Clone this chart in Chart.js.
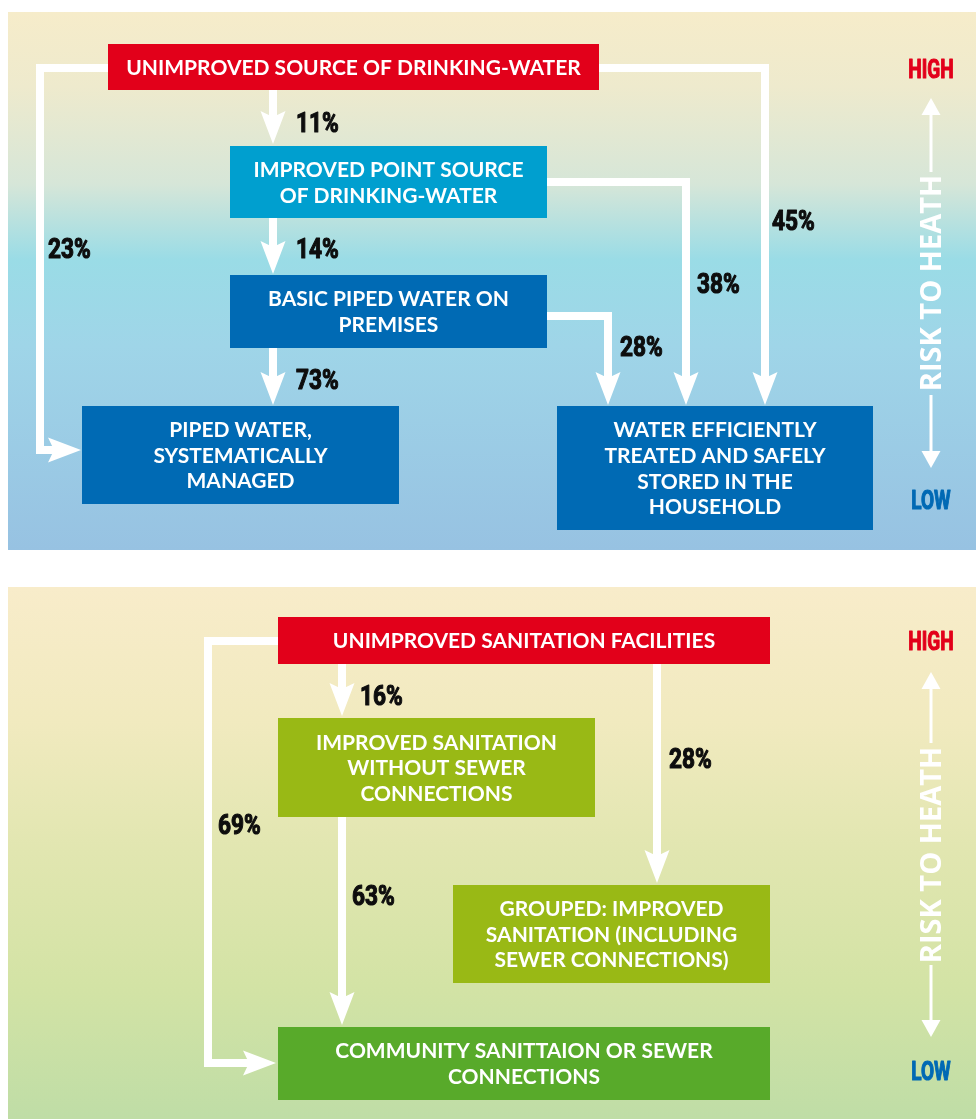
<!DOCTYPE html>
<html>
<head>
<meta charset="utf-8">
<script src="https://cdn.jsdelivr.net/npm/chart.js@4.4.0/dist/chart.umd.min.js"></script>
<style>
  body { margin: 0; background: #fff; width: 976px; height: 1119px; position: relative; overflow: hidden; }
  .panel { position: absolute; left: 8px; }
</style>
</head>
<body>
<div class="panel" style="top:12px;width:968px;height:538px"><canvas id="water" width="968" height="538"></canvas></div>
<div class="panel" style="top:587px;width:968px;height:532px"><canvas id="sanitation" width="968" height="532"></canvas></div>
<script>
// drinking-water ladder
const waterNodes = [
  'UNIMPROVED SOURCE OF DRINKING-WATER',
  'IMPROVED POINT SOURCE\nOF DRINKING-WATER',
  'BASIC PIPED WATER ON\nPREMISES',
  'PIPED WATER,\nSYSTEMATICALLY\nMANAGED',
  'WATER EFFICIENTLY\nTREATED AND SAFELY\nSTORED IN THE\nHOUSEHOLD'
];
const waterFrom = [0, 1, 2, 2, 1, 0, 0];
const waterTo   = [1, 2, 3, 4, 4, 4, 3];
const waterPct  = [11, 14, 73, 28, 38, 45, 23];

// sanitation ladder
const sanNodes = [
  'UNIMPROVED SANITATION FACILITIES',
  'IMPROVED SANITATION\nWITHOUT SEWER\nCONNECTIONS',
  'GROUPED: IMPROVED\nSANITATION (INCLUDING\nSEWER CONNECTIONS)',
  'COMMUNITY SANITTAION OR SEWER\nCONNECTIONS'
];
const sanFrom = [0, 0, 1, 0];
const sanTo   = [1, 2, 3, 3];
const sanPct  = [16, 28, 63, 69];

const riskLabels = ['HIGH', 'RISK TO HEATH', 'LOW'];

// layout in panel units (x 0..968, y 0..height, y downwards)
const waterLayout = {
  height: 538,
  grad: [[0, '#f6ecca'], [0.14, '#eeeacd'], [0.32, '#d6e6d8'], [0.46, '#9adce6'], [0.62, '#9fd5e8'], [1, '#97c2e2']],
  boxes: [[100, 32, 591, 78, '#e2001a'], [222, 134, 539, 206, '#009fcf'], [222, 263, 539, 336, '#006ab4'],
          [74, 394, 391, 492, '#006ab4'], [549, 394, 865, 518, '#006ab4']],
  paths: [
    [[265, 78], [265, 132]],
    [[265, 206], [265, 262]],
    [[265, 336], [265, 393]],
    [[539, 304], [600, 304], [600, 393]],
    [[539, 170], [678, 170], [678, 393]],
    [[591, 56], [757, 56], [757, 393]],
    [[100, 56], [32, 56], [32, 438], [73, 438]]
  ],
  labels: [[288, 113], [288, 239], [288, 370], [612, 337], [689, 274], [764, 211], [40, 239]],
  legend: { x: 923, high: 60, upTop: 86, upBot: 160, mid: 271, dnTop: 383, dnBot: 456, low: 491 }
};

const sanLayout = {
  height: 532,
  grad: [[0, '#f8ecca'], [0.25, '#f1eabf'], [0.5, '#e1e6b0'], [0.75, '#d3e3a5'], [1, '#bfdda6']],
  boxes: [[270, 30, 762, 77, '#e2001a'], [270, 131, 587, 230, '#99b915'], [445, 298, 762, 396, '#99b915'],
          [270, 440, 762, 513, '#58aa2a']],
  paths: [
    [[334, 77], [334, 129]],
    [[649, 77], [649, 296]],
    [[334, 230], [334, 438]],
    [[270, 54], [200, 54], [200, 476], [268, 476]]
  ],
  labels: [[352, 111], [661, 174], [344, 311], [210, 240]],
  legend: { x: 923, high: 57, upTop: 85, upBot: 156, mid: 268, dnTop: 378, dnBot: 450, low: 487 }
};

function arrowHead(ctx, tip, dir, len, wid, notch) {
  const [tx, ty] = tip, [dx, dy] = dir, nx = -dy, ny = dx;
  const bx = tx - dx * len, by = ty - dy * len;
  ctx.beginPath();
  ctx.moveTo(tx, ty);
  ctx.lineTo(bx + nx * wid / 2, by + ny * wid / 2);
  ctx.lineTo(bx + dx * notch, by + dy * notch);
  ctx.lineTo(bx - nx * wid / 2, by - ny * wid / 2);
  ctx.closePath();
  ctx.fill();
}

function drawArrow(ctx, pts, lw, len, wid, notch) {
  const n = pts.length;
  const [ax, ay] = pts[n - 2], [bx, by] = pts[n - 1];
  const d = Math.hypot(bx - ax, by - ay), dir = [(bx - ax) / d, (by - ay) / d];
  ctx.beginPath();
  ctx.moveTo(pts[0][0], pts[0][1]);
  for (let i = 1; i < n - 1; i++) ctx.lineTo(pts[i][0], pts[i][1]);
  ctx.lineTo(bx - dir[0] * (len - notch - 2), by - dir[1] * (len - notch - 2));
  ctx.lineWidth = lw;
  ctx.lineJoin = 'miter';
  ctx.lineCap = 'butt';
  ctx.stroke();
  arrowHead(ctx, [bx, by], dir, len, wid, notch);
}

// condensed heavy look: squeeze a bold sans horizontally and thicken it
function narrowText(ctx, txt, x, y, align, squeeze) {
  ctx.save();
  ctx.translate(x, y);
  ctx.scale(squeeze, 1);
  ctx.textAlign = align;
  ctx.strokeStyle = ctx.fillStyle;
  ctx.lineWidth = 1.1;
  ctx.lineJoin = 'round';
  ctx.strokeText(txt, 0, 0);
  ctx.fillText(txt, 0, 0);
  ctx.restore();
}

function makeDiagram(id, nodes, from, to, pct, lay) {
  const flow = {
    id: 'flow',
    beforeDraw(chart) {
      const ctx = chart.ctx;
      const g = ctx.createLinearGradient(0, 0, 0, chart.height);
      lay.grad.forEach(s => g.addColorStop(s[0], s[1]));
      ctx.save();
      ctx.fillStyle = g;
      ctx.fillRect(0, 0, chart.width, chart.height);
      ctx.restore();
    },
    afterDraw(chart) {
      const ctx = chart.ctx, sx = chart.scales.x, sy = chart.scales.y;
      const P = p => [sx.getPixelForValue(p[0]), sy.getPixelForValue(p[1])];
      ctx.save();
      // flows
      ctx.strokeStyle = '#fff';
      ctx.fillStyle = '#fff';
      pct.forEach((v, i) => drawArrow(ctx, lay.paths[i].map(P), 8, 33, 25, 6));
      // boxes
      nodes.forEach((txt, i) => {
        const b = lay.boxes[i];
        const [x0, y0] = P([b[0], b[1]]), [x1, y1] = P([b[2], b[3]]);
        ctx.fillStyle = b[4];
        ctx.fillRect(x0, y0, x1 - x0, y1 - y0);
        const lines = txt.split('\n'), lh = 25.7;
        ctx.fillStyle = '#fff';
        ctx.font = 'bold 21px Lato';
        ctx.textAlign = 'center';
        ctx.textBaseline = 'middle';
        const cy = (y0 + y1) / 2 - (lines.length - 1) * lh / 2;
        lines.forEach((l, k) => ctx.fillText(l, (x0 + x1) / 2, cy + k * lh + 1));
      });
      // percentages
      ctx.fillStyle = '#0d0d0d';
      ctx.font = 'bold 27px Roboto';
      ctx.textBaseline = 'middle';
      pct.forEach((v, i) => {
        const [x, y] = P(lay.labels[i]);
        if (from[i] >= 0 && to[i] >= 0) narrowText(ctx, v + '%', x, y, 'left', 0.84);
      });
      // risk scale
      const L = lay.legend, lx = sx.getPixelForValue(L.x);
      ctx.font = 'bold 25px Roboto';
      ctx.fillStyle = '#e2001a';
      narrowText(ctx, riskLabels[0], lx, sy.getPixelForValue(L.high), 'center', 0.76);
      ctx.fillStyle = '#0069b4';
      narrowText(ctx, riskLabels[2], lx, sy.getPixelForValue(L.low), 'center', 0.76);
      ctx.strokeStyle = '#fff';
      ctx.fillStyle = '#fff';
      drawArrow(ctx, [[L.x, L.upBot], [L.x, L.upTop]].map(P), 3, 17, 19, 0);
      drawArrow(ctx, [[L.x, L.dnTop], [L.x, L.dnBot]].map(P), 3, 17, 19, 0);
      ctx.translate(lx, sy.getPixelForValue(L.mid));
      ctx.rotate(-Math.PI / 2);
      ctx.font = 'bold 29px "Open Sans"';
      ctx.textAlign = 'center';
      ctx.fillText(riskLabels[1], 0, 2);
      ctx.restore();
    }
  };
  return new Chart(document.getElementById(id), {
    type: 'scatter',
    data: { datasets: [] },
    options: {
      responsive: false,
      animation: false,
      events: [],
      layout: { padding: 0 },
      plugins: { legend: { display: false }, tooltip: { enabled: false } },
      scales: {
        x: { type: 'linear', min: 0, max: 968, display: false },
        y: { type: 'linear', min: 0, max: lay.height, reverse: true, display: false }
      }
    },
    plugins: [flow]
  });
}

makeDiagram('water', waterNodes, waterFrom, waterTo, waterPct, waterLayout);
makeDiagram('sanitation', sanNodes, sanFrom, sanTo, sanPct, sanLayout);
</script>
</body>
</html>
